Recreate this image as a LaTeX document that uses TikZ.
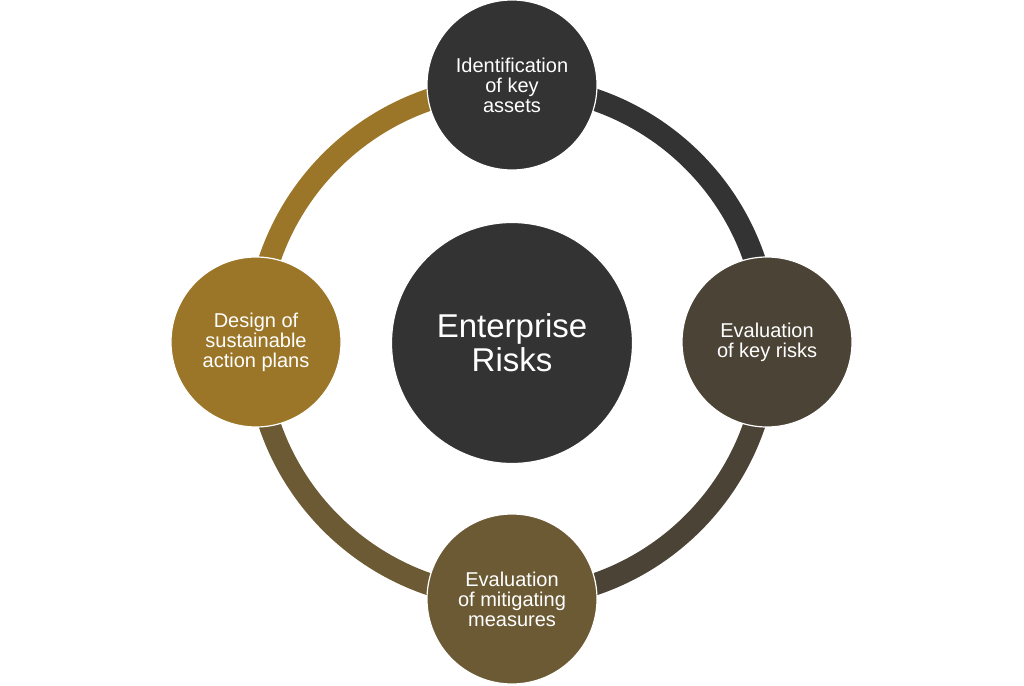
\documentclass[tikz,border=0pt]{standalone}
\usepackage{fontspec}
\setmainfont{Liberation Sans}
\definecolor{cTop}{RGB}{51,51,51}
\definecolor{cRight}{RGB}{75,68,54}
\definecolor{cBottom}{RGB}{108,90,53}
\definecolor{cLeft}{RGB}{156,118,40}
\begin{document}
\begin{tikzpicture}[x=1pt,y=1pt,
  ring/.style={line width=22pt},
  step node/.style={circle, draw=white, line width=1.2pt, minimum size=170pt, inner sep=0pt,
    text=white, align=center, font=\fontsize{20}{20}\selectfont},
  hub/.style={circle, draw=white, line width=1.2pt, minimum size=241pt, inner sep=0pt,
    fill=cTop, text=white, align=center, font=\fontsize{33}{34}\selectfont}]
\useasboundingbox (0,0) rectangle (1024,685);
\coordinate (C) at (512,343);
% ring segments
\draw[ring, cTop]    (C) ++(90:256)  arc[start angle=90,  end angle=0,    radius=256];
\draw[ring, cRight]  (C) ++(0:256)   arc[start angle=0,   end angle=-90,  radius=256];
\draw[ring, cBottom] (C) ++(-90:256) arc[start angle=-90, end angle=-180, radius=256];
\draw[ring, cLeft]   (C) ++(180:256) arc[start angle=180, end angle=90,   radius=256];
% nodes
\node[hub] (hub) at (512,342) {Enterprise\\Risks};
\node[step node, fill=cTop]    (top)    at (512,600) {Identification\\of key\\assets};
\node[step node, fill=cRight]  (right)  at (767,343) {Evaluation\\of key risks};
\node[step node, fill=cBottom] (bottom) at (512,86)  {Evaluation\\of mitigating\\measures};
\node[step node, fill=cLeft]   (left)   at (256,343) {Design of\\sustainable\\action plans};
\end{tikzpicture}
\end{document}
